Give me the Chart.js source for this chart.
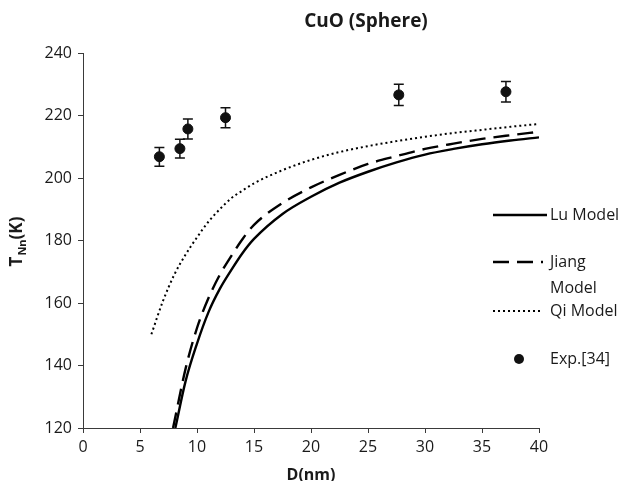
<!DOCTYPE html>
<html>
<head>
<meta charset="utf-8">
<script src="https://cdn.jsdelivr.net/npm/chart.js@4.4.1/dist/chart.umd.min.js"></script>
<style>
  body { margin: 0; background: #fff; }
</style>
</head>
<body>
<canvas id="cuo_chart" width="630" height="481"></canvas>
<script>
// experimental points (D in nm, T in K) with error
const expD = [6.7, 8.5, 9.2, 12.5, 27.7, 37.1];
const expT = [206.8, 209.4, 215.7, 219.3, 226.6, 227.6];
const expErr = [3.0, 3.0, 3.2, 3.2, 3.4, 3.3];

// model curves
const luD = [8.1, 9, 10, 11, 12, 13, 14, 15, 17.5, 20, 22.5, 25, 27.5, 30, 32.5, 35, 37.5, 40];
const luT = [120, 135, 147, 157, 164.5, 170.5, 176, 180.5, 188.5, 194, 198.5, 202, 205, 207.5, 209.3, 210.8, 212, 213];

const jiangD = [7.9, 9, 10, 11, 12, 13, 14, 15, 17.5, 20, 22.5, 25, 27.5, 30, 32.5, 35, 37.5, 40];
const jiangT = [120, 139, 152, 161.5, 169, 175, 180.5, 185, 192, 197, 201, 204.5, 207, 209.3, 211, 212.5, 213.7, 214.8];

const qiD = [6, 7, 8, 9, 10, 11, 12, 13, 14, 15, 17.5, 20, 22.5, 25, 27.5, 30, 32.5, 35, 37.5, 40];
const qiT = [150, 160.5, 169, 175.5, 181, 186, 190, 193.5, 196, 198.3, 202.5, 205.8, 208.3, 210.2, 211.8, 213.2, 214.4, 215.4, 216.4, 217.3];

const legendLabels = [['Lu Model'], ['Jiang', 'Model'], ['Qi Model'], ['Exp.[34]']];

function pts(xs, ys) {
  return xs.map((x, i) => ({x: x, y: ys[i]}));
}

const FONT = "'Open Sans', 'Noto Sans', sans-serif";
const INK = '#1a1a1a';

const lineBase = {
  type: 'line',
  borderColor: '#000',
  backgroundColor: '#000',
  pointRadius: 0,
  fill: false,
  cubicInterpolationMode: 'monotone'
};

const data = {
  datasets: [
    Object.assign({}, lineBase, {label: 'Lu Model', data: pts(luD, luT), borderWidth: 2.4}),
    Object.assign({}, lineBase, {label: 'Jiang Model', data: pts(jiangD, jiangT), borderWidth: 2.4, borderDash: [16, 8]}),
    Object.assign({}, lineBase, {label: 'Qi Model', data: pts(qiD, qiT), borderWidth: 2, borderDash: [2, 3]}),
    {
      type: 'scatter',
      label: 'Exp.[34]',
      data: pts(expD, expT),
      pointRadius: 5,
      pointBackgroundColor: '#111',
      pointBorderColor: '#111',
      showLine: false
    }
  ]
};

// error bars, title, y label and legend drawn by hand
const extras = {
  id: 'extras',
  beforeDatasetsDraw(chart) {
    const ctx = chart.ctx;
    const xs = chart.scales.x, ys = chart.scales.y;
    ctx.save();
    ctx.strokeStyle = '#111';
    ctx.lineWidth = 1.5;
    expD.forEach((d, i) => {
      const px = xs.getPixelForValue(d);
      const top = ys.getPixelForValue(expT[i] + expErr[i]);
      const bot = ys.getPixelForValue(expT[i] - expErr[i]);
      ctx.beginPath();
      ctx.moveTo(px, top); ctx.lineTo(px, bot);
      ctx.moveTo(px - 5, top); ctx.lineTo(px + 5, top);
      ctx.moveTo(px - 5, bot); ctx.lineTo(px + 5, bot);
      ctx.stroke();
    });
    ctx.restore();
  },
  afterDraw(chart) {
    const ctx = chart.ctx;
    ctx.save();
    ctx.fillStyle = INK;
    // title
    ctx.font = 'bold 19px ' + FONT;
    ctx.textAlign = 'center';
    ctx.textBaseline = 'middle';
    ctx.fillText('CuO (Sphere)', 366, 22);

    // y axis label with subscript
    ctx.translate(16, 242);
    ctx.rotate(-Math.PI / 2);
    ctx.textAlign = 'left';
    ctx.textBaseline = 'alphabetic';
    const big = 'bold 17px ' + FONT, small = 'bold 11px ' + FONT;
    ctx.font = big; const wT = ctx.measureText('T').width; const wK = ctx.measureText('(K)').width;
    ctx.font = small; const wN = ctx.measureText('Nn').width;
    let x0 = -(wT + wN + wK) / 2;
    ctx.font = big; ctx.fillText('T', x0, 6);
    ctx.font = small; ctx.fillText('Nn', x0 + wT + 1, 10);
    ctx.font = big; ctx.fillText('(K)', x0 + wT + wN + 1, 6);
    ctx.restore();

    // legend
    const rows = [215, 262, 311, 359];
    ctx.save();
    ctx.font = '16px ' + FONT;
    ctx.fillStyle = INK;
    ctx.textBaseline = 'middle';
    ctx.textAlign = 'left';
    chart.data.datasets.forEach((ds, i) => {
      const y = rows[i];
      if (ds.type === 'line') {
        ctx.strokeStyle = ds.borderColor;
        ctx.lineWidth = ds.borderWidth;
        ctx.setLineDash(ds.borderDash || []);
        ctx.beginPath();
        ctx.moveTo(493, y);
        ctx.lineTo(i === 0 ? 547 : 543, y);
        ctx.stroke();
        ctx.setLineDash([]);
      } else {
        ctx.fillStyle = '#111';
        ctx.beginPath();
        ctx.arc(519, y, 5, 0, Math.PI * 2);
        ctx.fill();
        ctx.fillStyle = INK;
      }
      legendLabels[i].forEach((t, k) => ctx.fillText(t, 550, y + k * 26));
    });
    ctx.restore();
  }
};

const axisCommon = {
  type: 'linear',
  border: {display: true, color: '#3a3a3a', width: 1},
  grid: {display: true, drawOnChartArea: false, drawTicks: true, tickLength: 5, color: '#3a3a3a'},
  ticks: {color: INK, font: {family: FONT, size: 16}}
};

const config = {
  data: data,
  options: {
    responsive: false,
    animation: false,
    layout: {padding: {top: 53, right: 91, left: 0, bottom: 0}},
    plugins: {
      legend: {display: false},
      title: {display: false},
      tooltip: {enabled: false}
    },
    scales: {
      x: Object.assign({}, axisCommon, {
        min: 0, max: 40,
        ticks: Object.assign({}, axisCommon.ticks, {stepSize: 5, padding: 5, maxRotation: 0}),
        title: {display: true, text: 'D(nm)', color: INK, font: {family: FONT, size: 16, weight: 'bold', lineHeight: 1}, padding: {top: 0, bottom: -2}},
        afterFit: s => { s.height = 53; }
      }),
      y: Object.assign({}, axisCommon, {
        min: 120, max: 240,
        ticks: Object.assign({}, axisCommon.ticks, {stepSize: 20, padding: 6}),
        afterFit: s => { s.width = 83; }
      })
    }
  },
  plugins: [extras]
};

const myChart = new Chart(document.getElementById('cuo_chart'), config);
</script>
</body>
</html>
